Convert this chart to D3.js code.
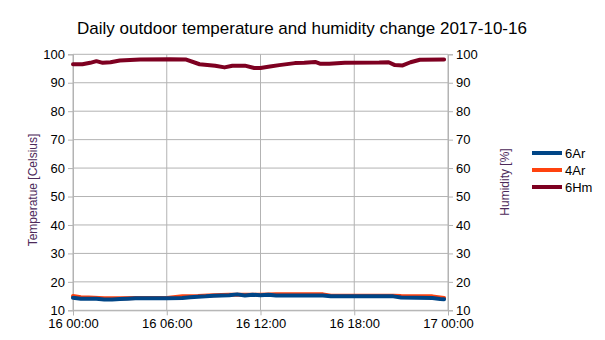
<!DOCTYPE html>
<html>
<head>
<meta charset="utf-8">
<script src="https://cdn.jsdelivr.net/npm/d3@7"></script>
<style>
  body { margin: 0; background: #fff; }
  text { font-family: "Liberation Sans", Arial, sans-serif; }
</style>
</head>
<body>
<svg id="chart" width="605" height="340"></svg>
<script>
let seriesNames = ["6Ar", "4Ar", "6Hm"];
let seriesColors = ["#004586", "#ff420e", "#7e0021"];
let xTickLabels = ["16 00:00", "16 06:00", "16 12:00", "16 18:00", "17 00:00"];
let yTicks = [10, 20, 30, 40, 50, 60, 70, 80, 90, 100];

// [hour of day, value]
let temp6Ar = [
    [0, 14.4], [0.5, 14.1], [1, 14.1], [1.5, 14.1], [2, 13.8], [2.5, 13.8],
    [3, 14.0], [3.5, 14.1], [4, 14.2], [5, 14.2], [6, 14.2], [7, 14.3],
    [7.5, 14.6], [8, 14.8], [8.5, 14.9], [9, 15.1], [9.5, 15.2], [10, 15.3],
    [10.5, 15.6], [11, 15.2], [11.5, 15.5], [12, 15.3], [12.5, 15.5], [13, 15.2],
    [14, 15.2], [15, 15.2], [16, 15.2], [16.5, 14.9], [17, 14.9], [18, 14.9],
    [19, 14.9], [20, 14.9], [20.5, 14.9], [21, 14.5], [22, 14.4], [23, 14.3],
    [23.5, 14.0], [23.75, 13.9]
];
let temp4Ar = [
    [0, 15.0], [0.5, 14.6], [1, 14.5], [2, 14.2], [3, 14.2], [4, 14.3],
    [6, 14.3], [7, 14.9], [8, 15.0], [9, 15.3], [10, 15.5], [11, 15.5],
    [12, 15.5], [13, 15.6], [16, 15.6], [16.5, 15.1], [20.5, 15.1], [21, 15.0],
    [23, 14.9], [23.75, 14.3]
];
let hum6Hm = [
    [0, 96.5], [0.6, 96.5], [1.1, 97.0], [1.5, 97.6], [1.9, 97.0], [2.4, 97.2],
    [3, 97.8], [4.3, 98.2], [6.2, 98.3], [7.2, 98.2], [8.1, 96.5], [9.1, 96.0],
    [9.7, 95.4], [10.2, 96.0], [11, 96.0], [11.6, 95.2], [12, 95.2], [12.6, 95.7],
    [13.2, 96.2], [14.2, 96.9], [14.8, 97.0], [15.5, 97.3], [15.8, 96.7], [16.4, 96.7],
    [17.4, 97.0], [19.6, 97.1], [20.2, 97.2], [20.6, 96.2], [21.1, 96.1], [21.6, 97.2],
    [22.2, 98.1], [23.75, 98.2]
];

let svg = d3.select("#chart");
let margin = { left: 73, right: 157, top: 54, bottom: 30 };
let width = 605, height = 340;

let xScale = d3.scaleLinear().domain([0, 24]).range([73, 448]);
let yScale = d3.scaleLinear().domain([10, 100]).range([310.3, 54.3]);

// grid
svg.append("g").selectAll("line").data(yTicks).enter()
    .append("line")
    .attr("x1", xScale(0)).attr("x2", xScale(24))
    .attr("y1", (d) => yScale(d)).attr("y2", (d) => yScale(d))
    .attr("stroke", "#b3b3b3");
svg.append("g").selectAll("line").data(xTickLabels).enter()
    .append("line")
    .attr("x1", (d, i) => xScale(i * 6)).attr("x2", (d, i) => xScale(i * 6))
    .attr("y1", yScale(10)).attr("y2", yScale(100) )
    .attr("stroke", "#b3b3b3");

// axes
let leftAxis = d3.axisLeft(yScale).tickValues(yTicks).tickSize(5).tickPadding(3);
let rightAxis = d3.axisRight(yScale).tickValues(yTicks).tickSize(5).tickPadding(3);
let bottomAxis = d3.axisBottom(xScale).tickValues([0, 6, 12, 18, 24])
    .tickFormat((d, i) => xTickLabels[i]).tickSize(5).tickPadding(3);

function styleAxis(g) {
    g.select(".domain").attr("stroke", "#b3b3b3");
    g.selectAll(".tick line").attr("stroke", "#b3b3b3");
    g.selectAll(".tick text").attr("fill", "#000")
        .style("font-family", "'Liberation Sans', Arial, sans-serif")
        .style("font-size", "13px");
}
svg.append("g").attr("transform", "translate(73,0)").call(leftAxis).call(styleAxis);
svg.append("g").attr("transform", "translate(448,0)").call(rightAxis).call(styleAxis);
svg.append("g").attr("transform", "translate(0,310.3)").call(bottomAxis).call(styleAxis);

// lines
let line = d3.line()
    .x((d) => xScale(d[0]))
    .y((d) => yScale(d[1]));

let drawOrder = [
    { data: temp4Ar, color: seriesColors[1] },
    { data: temp6Ar, color: seriesColors[0] },
    { data: hum6Hm, color: seriesColors[2] }
];
svg.append("g").selectAll("path").data(drawOrder).enter()
    .append("path")
    .attr("d", (d) => line(d.data))
    .attr("fill", "none")
    .attr("stroke", (d) => d.color)
    .attr("stroke-width", 4)
    .attr("stroke-linejoin", "round")
    .attr("stroke-linecap", "round");

// title
svg.append("text")
    .attr("x", 302).attr("y", 34)
    .attr("text-anchor", "middle")
    .style("font-size", "17px")
    .text("Daily outdoor temperature and humidity change 2017-10-16");

// axis titles
svg.append("text")
    .attr("transform", "translate(37,190) rotate(-90)")
    .attr("text-anchor", "middle")
    .attr("fill", "#4d2a5a")
    .style("font-size", "12px")
    .text("Temperatue [Celsius]");
svg.append("text")
    .attr("transform", "translate(509,182) rotate(-90)")
    .attr("text-anchor", "middle")
    .attr("fill", "#4d2a5a")
    .style("font-size", "12px")
    .text("Humidity [%]");

// legend
let legend = svg.append("g").selectAll("g").data(seriesNames).enter()
    .append("g")
    .attr("transform", (d, i) => "translate(532," + (153 + i * 17) + ")");
legend.append("line")
    .attr("x1", 0).attr("x2", 30)
    .attr("stroke", (d, i) => seriesColors[i])
    .attr("stroke-width", 4);
legend.append("text")
    .attr("x", 33).attr("y", 5)
    .style("font-size", "13px")
    .text((d) => d);
</script>
</body>
</html>
